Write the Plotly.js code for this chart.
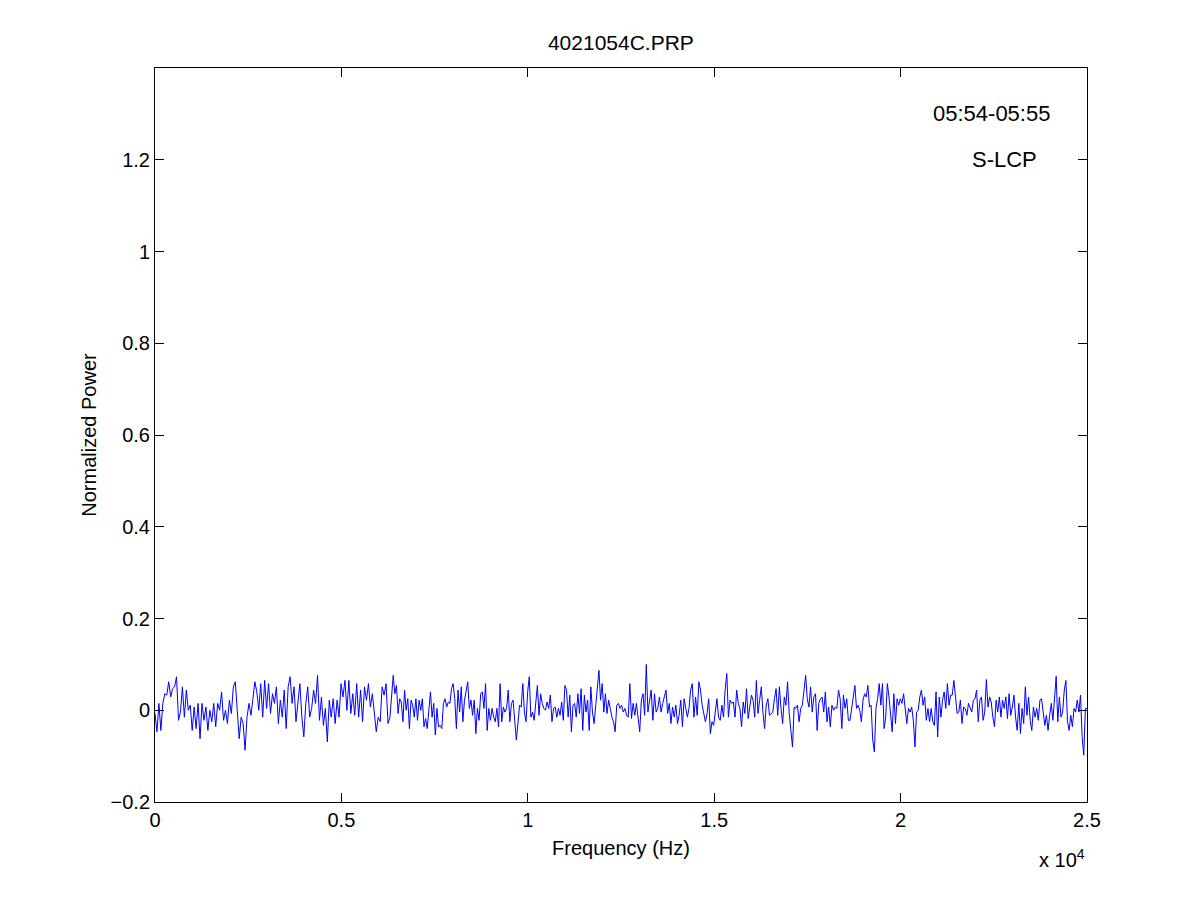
<!DOCTYPE html>
<html>
<head>
<meta charset="utf-8">
<script src="https://cdn.plot.ly/plotly-3.0.1.min.js"></script>
<style>
  html, body { margin: 0; padding: 0; background: #fff; }
  #chart { width: 1201px; height: 901px; }
</style>
</head>
<body>
<div id="chart"></div>
<script>
// spectrum, in four pieces (each with its own frequency span, Hz)
var segStart = [0, 6303, 12473, 18643];
var segEnd = [6303, 12473, 18643, 25000];

var seg1 = [-0.007,-0.047,0.015,-0.044,0.015,0.036,0.033,0.062,0.029,0.047,0.051,0.073,-0.022,-0.004,0.051,-0.015,
  0.044,0,0.011,-0.044,0.007,-0.040,0.015,-0.062,0.015,-0.022,0.007,-0.044,0,-0.025,0.015,-0.036,0.015,0,0.040,
  -0.022,0,-0.029,0.022,-0.007,0.051,0.062,0,-0.062,-0.015,-0.029,-0.087,-0.015,0.015,-0.011,0.025,0.062,0.040,0,
  0.058,-0.015,0.065,0.004,0.058,-0.007,0.036,0.015,0.051,-0.029,0.022,-0.015,0.044,-0.040,0.051,0.073,0.015,0.051,
  -0.025,0.015,0.058,-0.015,-0.058,0.015,0.051,-0.015,0.004,0.044,0.015,0.076,-0.022,0.029,-0.033,0.004,-0.069,
  0.022,-0.015,0.025,-0.029,0.022,-0.015,0.058,0.029,0.065,0,0.065,-0.007,0.036,-0.011,0.058,-0.015,0.044,-0.025,
  0.051,0.022,0.058,0.007,0.036,-0.011,-0.047,-0.015,-0.025,0.051,0.033,0.058,-0.029];

var seg2 = [-0.015,0.036,0.076,0.036,0.054,-0.007,0.025,0.018,-0.025,0.044,0,0.025,-0.040,0.022,0.011,-0.015,0.025,
  -0.022,0.022,0,0.025,-0.036,-0.018,-0.040,0.007,0.040,-0.015,0.015,-0.054,0.004,-0.036,-0.033,-0.040,0.015,0.025,
  0.007,0.018,0.015,0.047,0.058,0.025,-0.040,0.044,-0.004,0.051,-0.025,0.022,0.040,0.062,0.004,0.022,-0.011,0.022,
  -0.051,0.004,-0.022,0.036,0.040,0.004,0.058,-0.044,0.004,-0.022,0.004,-0.015,-0.025,0.004,-0.036,0.058,-0.025,
  0.007,-0.004,0.004,0.044,-0.025,0.015,0.022,-0.022,-0.065,-0.029,0.011,0.007,0.058,-0.004,-0.025,0.040,0.073,
  -0.015,-0.004,-0.022,0.022,0.054,-0.011,0.036,0.015,0.004,0,0.018,0.004,0.033,-0.025,0.004,0.007,-0.015,0.004,
  -0.011,0.018,-0.022,0.054,0.044,-0.015,0.033,-0.047,0.011,0.015,-0.015,0.036,-0.007,0.047,-0.044,0.033,-0.004,
  0.022,-0.044,0.051,-0.004,-0.029,0.015,0.051,0.087,0.022,0.058,-0.004,0.036,-0.007,0.022,0.004,-0.015,-0.025,
  -0.047,0.011,0.015];

var seg3 = [0.004,0.011,-0.004,0.004,-0.011,-0.015,0.058,-0.018,0.015,-0.011,0.015,-0.015,-0.047,0.022,0.036,-0.011,
  0.100,-0.004,0.025,0.044,-0.022,0.036,-0.004,0.004,0.029,-0.004,0.015,0.029,0.044,-0.007,0.015,-0.029,0.007,
  -0.015,0.011,-0.029,-0.011,0.022,-0.036,0.025,0,-0.015,0.004,0.044,0.058,-0.015,0.029,-0.011,0.062,0.044,0.011,
  -0.007,-0.025,-0.007,0.025,-0.051,-0.025,-0.033,0.004,0.025,-0.015,-0.022,0.011,-0.015,0.044,0.080,-0.015,0.022,
  0.015,0.018,-0.015,0.044,0.015,0.004,-0.036,0.018,-0.007,0.047,-0.018,0.004,0.033,0.022,-0.015,0.065,-0.007,
  0.022,0.051,-0.004,-0.040,0.011,0.025,-0.011,-0.007,-0.004,0.025,0.047,-0.011,0.051,0.004,-0.029,0.029,0.011,
  0.062,-0.007,-0.044,-0.080,0.007,0.004,0.011,-0.025,0.004,0.011,0.044,0.076,0.025,0.007,0.051,-0.004,0.029,
  0.036,-0.044,0.015,0.025,0.029,-0.004,0.040,-0.025,0.007,-0.036,0.011,0,0.007,0.004,0.044,0.025,-0.040,0.033,
  0.004,0.025,-0.022];

var seg4 = [-0.022,0.004,0.025,0.054,0.004,0.011,0,-0.025,0.022,0.036,0.029,0.054,0.007,0.011,-0.065,-0.091,0.004,
  0.025,0.058,0.011,0.058,-0.040,-0.015,0.058,0.029,-0.015,-0.047,0.036,-0.029,0.025,0.011,0.025,0.015,0.036,
  -0.004,-0.029,0.004,-0.004,0.007,-0.022,-0.080,-0.004,0,0.029,0.044,0.011,0.029,-0.022,0.004,-0.025,0.004,
  -0.025,-0.033,0.040,-0.058,0.029,-0.015,0.022,0.040,0.004,0.058,0.011,0.033,0.033,0.065,0.022,-0.007,-0.004,
  0.022,-0.029,0.007,0.004,-0.011,0.015,0.004,-0.004,0.022,0.025,0.044,-0.025,0.022,0.029,-0.022,-0.004,0.067,
  0.007,0.029,0.018,-0.015,-0.036,0.022,-0.004,0.029,-0.015,0.022,0.004,0.029,-0.018,0.036,-0.011,0.007,0.033,
  -0.015,-0.044,0.015,-0.051,0.004,-0.029,0.051,-0.011,0.029,-0.022,-0.044,0.007,-0.015,0.004,-0.022,0.022,0.025,
  0,-0.033,-0.011,-0.044,-0.011,0.015,-0.022,0.022,0.074,-0.025,0.029,-0.015,-0.004,0.044,0.065,-0.025,-0.044,
  -0.011,-0.036,0.004,-0.004,0.022,-0.004,0.033,-0.058,-0.098,0.004];

var xTickVals = [0, 5000, 10000, 15000, 20000, 25000];
var xTickText = ['0', '0.5', '1', '1.5', '2', '2.5'];
var yTickVals = [-0.2, 0, 0.2, 0.4, 0.6, 0.8, 1, 1.2];
var yTickText = ['\u22120.2', '0', '0.2', '0.4', '0.6', '0.8', '1', '1.2'];

var freq = [], power = [];
[seg1, seg2, seg3, seg4].forEach(function (seg, k) {
    var df = (segEnd[k] - segStart[k]) / seg.length;
    for (var i = 0; i < seg.length; i++) {
        freq.push(segStart[k] + i * df);
        power.push(seg[i]);
    }
});
freq.push(25000);
power.push(0.004);

var family = 'Liberation Sans, Arial, Helvetica, sans-serif';
var font = {family: family, size: 20, color: '#000'};
var titleFont = {family: family, size: 21, color: '#000'};
var noteFont = {family: family, size: 22, color: '#000'};

var traces = [{
    x: freq,
    y: power,
    type: 'scatter',
    mode: 'lines',
    line: {color: '#0000ff', width: 1},
    showlegend: false,
    hoverinfo: 'skip'
}];

var axisCommon = {
    showgrid: false,
    zeroline: false,
    showline: true,
    linecolor: '#000',
    linewidth: 1,
    mirror: 'allticks',
    ticks: 'inside',
    ticklen: 9,
    tickcolor: '#000',
    tickfont: font
};

var layout = {
    width: 1201,
    height: 901,
    paper_bgcolor: '#fff',
    plot_bgcolor: '#fff',
    margin: {l: 155, r: 114, t: 68, b: 99},
    font: font,
    title: {text: '4021054C.PRP', font: titleFont, x: 0.517, xanchor: 'center', y: 0.953, yanchor: 'middle'},
    xaxis: Object.assign({}, axisCommon, {
        range: [0, 25000],
        tickmode: 'array',
        tickvals: xTickVals,
        ticktext: xTickText,
        title: {text: 'Frequency (Hz)', font: font, standoff: 10}
    }),
    yaxis: Object.assign({}, axisCommon, {
        range: [-0.2, 1.4],
        tickmode: 'array',
        tickvals: yTickVals,
        ticktext: yTickText,
        title: {text: 'Normalized Power', font: font, standoff: 8}
    }),
    annotations: [
        {x: 22440, y: 1.3, xref: 'x', yref: 'y', text: '05:54-05:55', showarrow: false,
         font: noteFont, xanchor: 'center', yanchor: 'middle'},
        {x: 22800, y: 1.2, xref: 'x', yref: 'y', text: 'S-LCP', showarrow: false,
         font: noteFont, xanchor: 'center', yanchor: 'middle'},
        {x: 1, y: -0.077, xref: 'paper', yref: 'paper', text: 'x 10<sup>4</sup>', showarrow: false,
         font: font, xanchor: 'right', yanchor: 'middle'}
    ]
};

Plotly.newPlot('chart', traces, layout, {displayModeBar: false, staticPlot: true});
</script>
</body>
</html>
